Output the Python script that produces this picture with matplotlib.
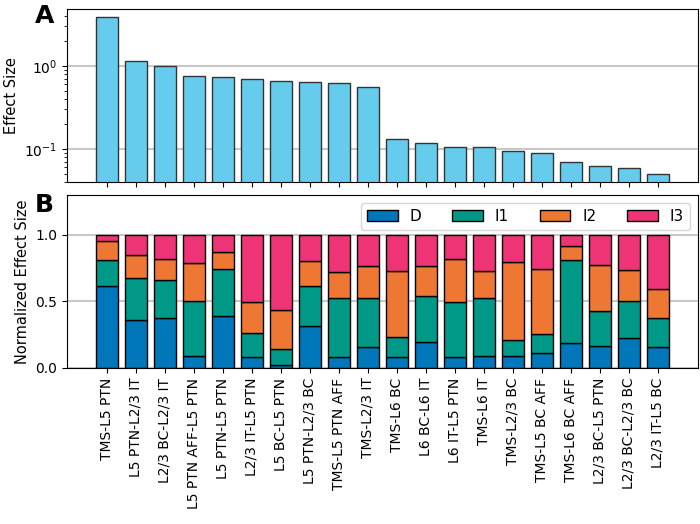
import matplotlib
matplotlib.use('Agg')
import matplotlib.pyplot as plt
import numpy as np

# pathway labels
labels = ['TMS-L5 PTN', 'L5 PTN-L2/3 IT', 'L2/3 BC-L2/3 IT', 'L5 PTN AFF-L5 PTN',
          'L5 PTN-L5 PTN', 'L2/3 IT-L5 PTN', 'L5 BC-L5 PTN', 'L5 PTN-L2/3 BC',
          'TMS-L5 PTN AFF', 'TMS-L2/3 IT', 'TMS-L6 BC', 'L6 BC-L6 IT',
          'L6 IT-L5 PTN', 'TMS-L6 IT', 'TMS-L2/3 BC', 'TMS-L5 BC AFF',
          'TMS-L6 BC AFF', 'L2/3 BC-L5 PTN', 'L2/3 BC-L2/3 BC', 'L2/3 IT-L5 BC']

# A: effect size (log scale)
effect = [3.93, 1.15, 0.99, 0.76, 0.73, 0.70, 0.66, 0.64, 0.62, 0.56,
          0.133, 0.117, 0.105, 0.105, 0.093, 0.089, 0.070, 0.062, 0.058, 0.050]

# B: normalized components
D = [0.619, 0.356, 0.376, 0.088, 0.388, 0.083, 0.018, 0.318, 0.078, 0.158,
     0.083, 0.198, 0.083, 0.088, 0.088, 0.110, 0.185, 0.168, 0.223, 0.155]
I1 = [0.193, 0.321, 0.283, 0.418, 0.356, 0.178, 0.125, 0.301, 0.448, 0.366,
      0.150, 0.341, 0.411, 0.436, 0.123, 0.143, 0.627, 0.263, 0.281, 0.223]
I2 = [0.140, 0.170, 0.158, 0.283, 0.128, 0.235, 0.291, 0.188, 0.198, 0.245,
      0.494, 0.228, 0.326, 0.205, 0.583, 0.491, 0.105, 0.343, 0.228, 0.213]
I3 = [0.048, 0.153, 0.183, 0.211, 0.128, 0.504, 0.566, 0.193, 0.276, 0.231,
      0.273, 0.233, 0.180, 0.271, 0.206, 0.256, 0.083, 0.226, 0.268, 0.409]

components = {'D': D, 'I1': I1, 'I2': I2, 'I3': I3}
colors = {'D': '#0077BB', 'I1': '#009988', 'I2': '#EE7733', 'I3': '#EE3377'}

plt.rcParams['font.size'] = 10

x = np.arange(len(labels))
fig = plt.figure(figsize=(7, 5.24), dpi=100)
ax1 = fig.add_axes([0.0957, 0.653, 0.9013, 0.330])
ax2 = fig.add_axes([0.0957, 0.298, 0.9013, 0.330])

ax1.bar(x, effect, width=0.75, color='#66CCEE', edgecolor='#333333', linewidth=1)
ax1.set_yscale('log')
ax1.set_ylim(0.04, 4.86)
ax1.set_xlim(-1.38, 20.38)
ax1.set_xticks(x)
ax1.set_xticklabels([])
ax1.set_ylabel('Effect Size', fontsize=10.5)
ax1.yaxis.grid(True, which='major', color='#c8c8c8', linewidth=1.5)
ax1.set_axisbelow(True)

bottom = np.zeros(len(labels))
for name, vals in components.items():
    ax2.bar(x, vals, width=0.75, bottom=bottom, color=colors[name],
            edgecolor='black', linewidth=1, label=name)
    bottom += np.array(vals)
ax2.set_ylim(0, 1.3)
ax2.set_xlim(-1.38, 20.38)
ax2.set_yticks([0.0, 0.5, 1.0])
ax2.set_xticks(x)
ax2.set_xticklabels(labels, rotation=90)
ax2.set_ylabel('Normalized Effect Size', fontsize=10.5)
ax2.yaxis.grid(True, color='#c8c8c8', linewidth=1.5)
ax2.set_axisbelow(True)
ax2.legend(loc='upper right', ncol=4, fontsize=11)

fig.text(0.05, 0.992, 'A', fontsize=18, fontweight='bold', va='top')
fig.text(0.05, 0.632, 'B', fontsize=18, fontweight='bold', va='top')

fig.savefig('out.png', dpi=100)
